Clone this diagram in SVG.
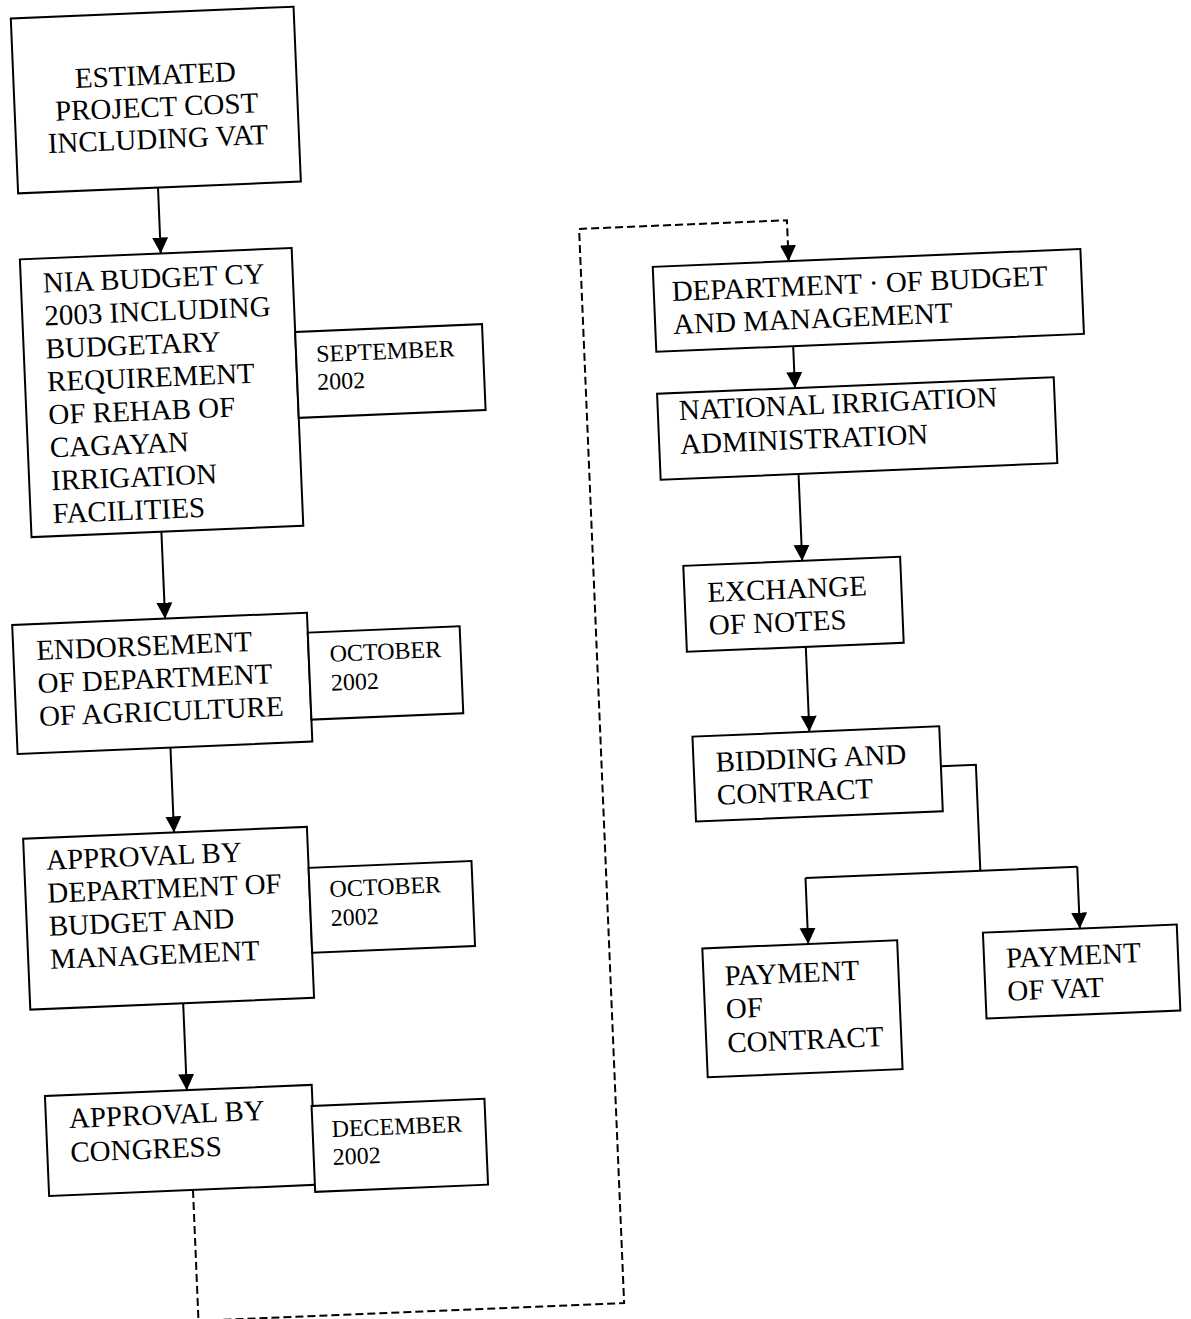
<svg xmlns="http://www.w3.org/2000/svg" width="1191" height="1319" viewBox="0 0 1191 1319">
<style>
.box{fill:#fff;stroke:#000;stroke-width:2}
.t{font-family:"Liberation Serif","Times New Roman",serif;font-size:29px;fill:#000}
.d{font-size:24px}
.c{fill:none;stroke:#000;stroke-width:2}
.dash{stroke-dasharray:8 4}
</style>
<defs>
<marker id="ah" markerUnits="userSpaceOnUse" markerWidth="18" markerHeight="18" refX="16" refY="8" orient="auto">
<path d="M0,0 L16,8 L0,16 z" fill="#000"/>
</marker>
</defs>
<rect x="0" y="0" width="1191" height="1319" fill="#fff"/>
<g transform="rotate(-2.4)">
<g id="connectors">
<path class="c" d="M150,194 V260" marker-end="url(#ah)"/>
<path class="c" d="M139,538 V625" marker-end="url(#ah)"/>
<path class="c" d="M139,754 V839" marker-end="url(#ah)"/>
<path class="c" d="M141,1010 V1097" marker-end="url(#ah)"/>
<path class="c dash" d="M143,1197 V1328 H569 V253 H777 V294" marker-end="url(#ah)"/>
<path class="c" d="M778,379 V421" marker-end="url(#ah)"/>
<path class="c" d="M778,507 V594" marker-end="url(#ah)"/>
<path class="c" d="M778,680 V765" marker-end="url(#ah)"/>
<path class="c" d="M908,805 H943 V911 M768,911 H1040"/>
<path class="c" d="M768,911 V977" marker-end="url(#ah)"/>
<path class="c" d="M1040,911 V973" marker-end="url(#ah)"/>
</g>
<g id="n1">
<rect class="box" x="10" y="19" width="283" height="175"/>
<text class="t" text-anchor="middle"><tspan x="152" y="91">ESTIMATED</tspan><tspan x="152" y="123">PROJECT COST</tspan><tspan x="152" y="155">INCLUDING VAT</tspan></text>
</g>
<g id="n2">
<rect class="box" x="9" y="260" width="272" height="278"/>
<text class="t"><tspan x="31" y="294">NIA BUDGET CY</tspan><tspan x="31" y="327">2003 INCLUDING</tspan><tspan x="31" y="360">BUDGETARY</tspan><tspan x="31" y="393">REQUIREMENT</tspan><tspan x="31" y="426">OF REHAB OF</tspan><tspan x="31" y="459">CAGAYAN</tspan><tspan x="31" y="492">IRRIGATION</tspan><tspan x="31" y="525">FACILITIES</tspan></text>
</g>
<g id="d1">
<rect class="box" x="281" y="344" width="187" height="86"/>
<text class="t d"><tspan x="301" y="375">SEPTEMBER</tspan><tspan x="301" y="403">2002</tspan></text>
</g>
<g id="n3">
<rect class="box" x="-14" y="625" width="295" height="129"/>
<text class="t"><tspan x="9" y="661">ENDORSEMENT</tspan><tspan x="9" y="694">OF DEPARTMENT</tspan><tspan x="9" y="727">OF AGRICULTURE</tspan></text>
</g>
<g id="d2">
<rect class="box" x="281" y="645" width="152" height="87"/>
<text class="t d"><tspan x="302" y="675">OCTOBER</tspan><tspan x="302" y="704">2002</tspan></text>
</g>
<g id="n4">
<rect class="box" x="-12" y="839" width="284" height="171"/>
<text class="t"><tspan x="10" y="871">APPROVAL BY</tspan><tspan x="10" y="904">DEPARTMENT OF</tspan><tspan x="10" y="937">BUDGET AND</tspan><tspan x="10" y="970">MANAGEMENT</tspan></text>
</g>
<g id="d3">
<rect class="box" x="272" y="880" width="163" height="85"/>
<text class="t d"><tspan x="292" y="910">OCTOBER</tspan><tspan x="292" y="939">2002</tspan></text>
</g>
<g id="n5">
<rect class="box" x="-1" y="1097" width="267" height="100"/>
<text class="t"><tspan x="22" y="1130">APPROVAL BY</tspan><tspan x="22" y="1164">CONGRESS</tspan></text>
</g>
<g id="d4">
<rect class="box" x="265" y="1118" width="173" height="86"/>
<text class="t d"><tspan x="284" y="1150">DECEMBER</tspan><tspan x="284" y="1178">2002</tspan></text>
</g>
<g id="n6">
<rect class="box" x="641" y="294" width="428" height="85"/>
<text class="t"><tspan x="659" y="329">DEPARTMENT · OF BUDGET</tspan><tspan x="659" y="362">AND MANAGEMENT</tspan></text>
</g>
<g id="n7">
<rect class="box" x="640" y="421" width="397" height="86"/>
<text class="t"><tspan x="661" y="448">NATIONAL IRRIGATION</tspan><tspan x="661" y="482">ADMINISTRATION</tspan></text>
</g>
<g id="n8">
<rect class="box" x="659" y="594" width="217" height="86"/>
<text class="t"><tspan x="682" y="631">EXCHANGE</tspan><tspan x="682" y="664">OF NOTES</tspan></text>
</g>
<g id="n9">
<rect class="box" x="661" y="765" width="247" height="85"/>
<text class="t"><tspan x="683" y="801">BIDDING AND</tspan><tspan x="683" y="834">CONTRACT</tspan></text>
</g>
<g id="n10">
<rect class="box" x="662" y="977" width="195" height="129"/>
<text class="t"><tspan x="683" y="1015">PAYMENT</tspan><tspan x="683" y="1048">OF</tspan><tspan x="683" y="1082">CONTRACT</tspan></text>
</g>
<g id="n11">
<rect class="box" x="943" y="973" width="194" height="86"/>
<text class="t"><tspan x="965" y="1009">PAYMENT</tspan><tspan x="965" y="1042">OF VAT</tspan></text>
</g>
</g>
</svg>
